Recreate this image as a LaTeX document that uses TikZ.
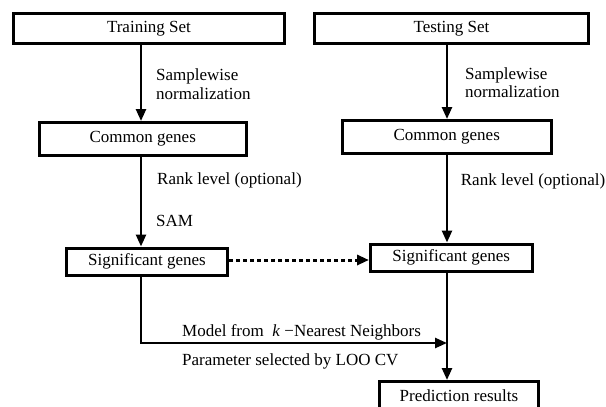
\documentclass[tikz,border=0pt]{standalone}
\usepackage{fontspec}
\setmainfont{Liberation Serif}
\usetikzlibrary{arrows.meta}

\tikzset{
  txt/.style={font=\fontsize{17}{18.5}\selectfont, inner sep=0pt},
  box/.style={txt, draw, line width=3pt, rectangle},
  arr/.style={line width=2.5pt, -{Triangle[length=12pt,width=10pt]}},
  dotarr/.style={line width=3pt, dash pattern=on 4pt off 3pt,
                 -{Triangle[length=12pt,width=10pt]}},
  lbl/.style={txt, anchor=base west},
}

\begin{document}
\begin{tikzpicture}[x=1pt, y=-1pt]
  \clip (0,0) rectangle (606,407);

  % boxes
  \node[box, minimum width=271pt, minimum height=30pt]   (train) at (149,28.5)    {Training Set};
  \node[box, minimum width=274pt, minimum height=30pt]   (test)  at (451.5,28.5)  {Testing Set};
  \node[box, minimum width=206.5pt, minimum height=33pt] (lcom)  at (142.75,139)  {Common genes};
  \node[box, minimum width=208.5pt, minimum height=33pt] (rcom)  at (446.75,137)  {Common genes};
  \node[box, minimum width=161pt, minimum height=27.5pt] (lsig)  at (147,261.75)  {Significant genes};
  \node[box, minimum width=161.5pt, minimum height=27.5pt] (rsig) at (451.25,257.75) {Significant genes};
  \node[box, minimum width=159pt, minimum height=29pt]   (pred)  at (459,396)     {Prediction results};

  % guide coordinates for the two columns of arrows
  \coordinate (lx) at (141,0);
  \coordinate (rx) at (447,0);
  \coordinate (dy) at (0,260);
  \coordinate (join) at (447,343);

  % left column
  \draw[arr] (train.south -| lx) -- (lcom.north -| lx);
  \draw[arr] (lcom.south -| lx) -- (lsig.north -| lx);
  \draw[arr] (lsig.south -| lx) |- (join);

  % right column
  \draw[arr] (test.south -| rx) -- (rcom.north -| rx);
  \draw[arr] (rcom.south -| rx) -- (rsig.north -| rx);
  \draw[arr] (rsig.south -| rx) -- (pred.north -| rx);

  % gene list carried across
  \draw[dotarr] (lsig.east |- dy) -- (rsig.west |- dy);

  % labels
  \node[txt, anchor=west, align=left] (ln1) at (156,84.2) {Samplewise\\normalization};
  \node[txt, anchor=west, align=left] (rn1) at (465,82.5) {Samplewise\\normalization};
  \node[lbl] (lr) at (157,184) {Rank level (optional)};
  \node[lbl] (rr) at (460.7,185) {Rank level (optional)};
  \node[lbl] (sam) at (156,226.7) {SAM};
  \node[lbl] (knn) at (182,336) {Model from~~\textit{k} −Nearest Neighbors};
  \node[lbl] (loo) at (182,365) {Parameter selected by LOO CV};
\end{tikzpicture}
\end{document}
